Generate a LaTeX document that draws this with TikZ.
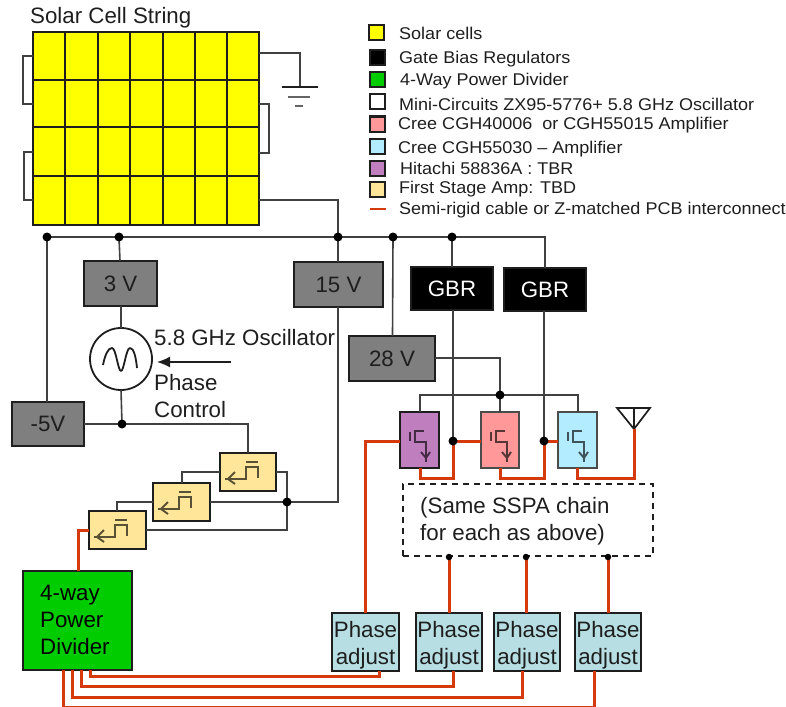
\documentclass[tikz,border=0pt]{standalone}
\usepackage{fontspec}
\setmainfont{Liberation Sans}
\newfontfamily\lgfont[FakeStretch=1.06]{Liberation Sans}
\usetikzlibrary{calc,arrows.meta}
\definecolor{ink}{HTML}{1E1E1E}
\definecolor{cabl}{HTML}{D43A0E}
\definecolor{regg}{HTML}{7F7F7F}
\definecolor{grn}{HTML}{00CC00}
\definecolor{pnk}{HTML}{FF9999}
\definecolor{blu}{HTML}{B3ECFF}
\definecolor{pur}{HTML}{BF7FBF}
\definecolor{bge}{HTML}{FFE699}
\definecolor{phs}{HTML}{B7DFE3}
\definecolor{solar}{HTML}{FFFF00}
\tikzset{
  x=1pt,y=-1pt,
  wire/.style={draw=ink!85!white,line width=1.6pt},
  redw/.style={draw=cabl,line width=3pt,line join=miter},
  bx/.style={draw=ink,line width=2pt,inner sep=0pt,outer sep=0pt,text=ink,align=center,font=\fontsize{22.3}{27}\selectfont},
  reg/.style={bx,fill=regg},
  gbr/.style={bx,fill=black,text=white},
  dot/.style={circle,fill=black,inner sep=0pt,minimum size=9pt},
  smalld/.style={circle,fill=black,inner sep=0pt,minimum size=6.5pt},
  swatch/.style={draw=ink,line width=2pt,inner sep=0pt,minimum size=15pt},
  lg/.style={anchor=west,inner sep=0pt,text=ink,font=\lgfont\fontsize{17}{17}\selectfont},
  lab/.style={anchor=west,inner sep=0pt,text=ink,font=\fontsize{22.3}{27}\selectfont},
  phtext/.style={inner sep=0pt,text=ink,align=center,yshift=-3pt,font=\fontsize{22.3}{27}\selectfont},
  sym/.style={line width=1.9pt,line cap=butt},
}
% \bxat{style}{name}{x1}{y1}{x2}{y2}{text}
\newcommand{\bxat}[7]{\node[#1,minimum width={#5-#3},minimum height={#6-#4}] (#2) at ({(#3+#5)/2},{(#4+#6)/2}) {#7};}
\newcommand{\ampsym}[2]{\begin{scope}[shift={(#1)},sym,draw=#2]
  \draw (10,20)--(10,29);
  \draw (24,19)--(15,19)--(15,30)--(26,30)--(26,50);
  \draw (21,40)--(26,46)--(30,40);
\end{scope}}
\newcommand{\fstsym}[1]{\begin{scope}[shift={(#1)},sym,draw=bge!35!black]
  \draw (26,9)--(38,9);
  \draw (38,25)--(38,14)--(26,14)--(26,26)--(5,26);
  \draw (15,19)--(8,26)--(15,31);
\end{scope}}
\begin{document}
\begin{tikzpicture}
\useasboundingbox (0,0) rectangle (786,706);
% solar string
\node[lab,font=\fontsize{22.3}{22}\selectfont] (title) at (30,18) {Solar Cell String};
\bxat{draw=ink,fill=solar,line width=1.7pt,inner sep=0pt,outer sep=0pt}{cells}{33}{32}{259}{225}{}
\foreach \vx in {65,98,130,163,195,227}{\draw[ink,line width=1.7pt] (\vx,32)--(\vx,225);}
\foreach \hy in {80,127,176}{\draw[ink,line width=1.7pt] (33,\hy)--(259,\hy);}
\draw[wire] (33,56)--(23,56)--(23,104)--(33,104);
\draw[wire] (33,152)--(24,152)--(24,200)--(33,200);
\draw[wire] (259,104)--(269,104)--(269,153)--(259,153);
\draw[wire] (259,200)--(338,200)--(338,237);
% ground
\coordinate (gnd) at (300,87);
\draw[wire,line width=1.8pt] (259,53)-|(gnd);
\draw[ink,line width=2pt] (282,87)--(318,87);
\draw[regg!80!black,line width=2pt] (288,97)--(310,97);
\draw[regg!80!black,line width=2pt] (295,106)--(303,106);
% bus junctions
\coordinate (jm5) at (47,237);
\coordinate (j3) at (119,237);
\coordinate (j15) at (338,237);
\coordinate (j28) at (393,237);
\coordinate (jg1) at (452,237);
\coordinate (jg2) at (545,237);
% regulators
\bxat{reg}{v3}{84}{261}{157}{306}{3 V}
\bxat{reg}{v15}{294}{262}{383}{307}{15 V}
\bxat{reg}{v28}{349}{336}{435}{381}{28 V}
\bxat{reg}{vm5}{12}{402}{84}{446}{-5V}
\bxat{gbr}{g1}{411}{267}{493}{310}{GBR}
\bxat{gbr}{g2}{504}{268}{586}{311}{GBR}
% oscillator
\node[circle,draw=ink,line width=1.8pt,fill=white,minimum size=62pt,inner sep=0pt,outer sep=0pt] (osc) at (121,359) {};
\draw[ink,line width=1.8pt,line join=round] (103,365) .. controls (105,355) and (108,348) .. (112,348) .. controls (116,348) and (118,371) .. (121,371) .. controls (124,371) and (126,348) .. (130,348) .. controls (134,348) and (136,358) .. (137,368);
\node[lab] (osclab) at (154,338) {5.8 GHz Oscillator};
\node[lab] (phlab) at (154,383) {Phase};
\node[lab] (ctllab) at (154,410) {Control};
\coordinate (arrs) at (231,362);
\draw[ink,line width=1.5pt,-{Latex[length=13pt,width=11pt]}] (arrs)--(157,362);
% first stage amps
\bxat{bx,fill=bge}{a3}{220}{453}{276}{491}{}
\bxat{bx,fill=bge}{a2}{153}{483}{210}{521}{}
\bxat{bx,fill=bge}{a1}{89}{511}{146}{549}{}
\fstsym{220,453}\fstsym{153,483}\fstsym{89,511}
% SSPA
\bxat{bx,fill=pur}{ap}{400}{412}{439}{468}{}
\bxat{bx,fill=pnk,draw=ink!80}{ar}{481}{412}{519}{468}{}
\bxat{bx,fill=blu,draw=ink!80}{ab}{558}{412}{597}{468}{}
\ampsym{400,412}{pur!35!black}
\ampsym{481,412}{pnk!35!black}
\ampsym{558,412}{blu!35!black}
% divider and phase boxes
\bxat{bx,fill=grn,text=black}{div}{23}{571}{132}{670}{}
\node[lab,text=black,align=left] (divt) at (40,620) {4-way\\Power\\Divider};
\bxat{bx,fill=phs}{p1}{332}{613}{399}{671}{}
\bxat{bx,fill=phs}{p2}{416}{613}{482}{671}{}
\bxat{bx,fill=phs}{p3}{494}{613}{560}{671}{}
\bxat{bx,fill=phs}{p4}{575}{613}{641}{671}{}
\node[phtext] (pt1) at (p1) {Phase\\adjust};
\node[phtext] (pt2) at (p2) {Phase\\adjust};
\node[phtext] (pt3) at (p3) {Phase\\adjust};
\node[phtext] (pt4) at (p4) {Phase\\adjust};
% dashed
\bxat{draw=ink,dashed,line width=1.6pt,dash pattern=on 6pt off 5pt,inner sep=0pt,outer sep=0pt}{same}{403}{484}{653}{556}{}
\node[lab,align=left,anchor=north west] (samet) at (420,497.5) {(Same SSPA chain\\for each as above)};
% antenna
\coordinate (ant) at (634,429);
\draw[ink,line width=1.7pt,line join=miter] (617,408)--(650,408)--(ant)--cycle (634,408)--(ant);
% black wiring
\draw[wire] (jm5)--(jg1)--(jg2)--(g2.north-|jg2);
\draw[wire] (jm5)--(vm5.north-|jm5);
\draw[wire] (j3)--(120,261);
\draw[wire] (v3.south-|121,0)--(osc.north);
\coordinate (j5) at (122,424);
\draw[wire] (osc.south)--(j5);
\draw[wire] (vm5.east|-j5)--(j5)--(248,424)--(a3.north-|248,0);
\draw[wire] (j15)--(v15.north-|j15);
\coordinate (j2) at (287,502);
\draw[wire] (v15.south-|j15)--(338,502)--(a2.east|-j2);
\draw[wire] (a3.east|-0,472)--(287,472)--(287,530)--(a1.east|-0,530);
\draw[wire] (a3.west|-0,472)--(182,472)--(a2.north-|182,0);
\draw[wire] (a2.west|-j2)--(117,502)--(a1.north-|117,0);
\draw[wire] (j28)--(v28.north-|392.5,0);
\draw[wire] (jg1)--(g1.north-|jg1);
\coordinate (jr) at (500,395);
\draw[wire] (v28.east|-0,358)--(500,358)--(jr);
\draw[wire] (ap.north-|420,0)--(420,395)--(578,395)--(ab.north-|578,0);
\draw[wire] (jr)--(ar.north-|jr);
\coordinate (jp) at (453,441);
\coordinate (jq) at (544,441);
\draw[wire] (g1.south-|jp)--(jp);
\draw[wire] (g2.south-|jq)--(jq);
% cables
\draw[redw] (a1.west|-0,530)--(78,530)--(div.north-|78,0);
\draw[redw] (ap.west|-0,441)--(365.5,441)--(p1.north-|365.5,0);
\draw[redw] (ap.south-|420,0)--(420,478)--(453,478)--(jp)--(ar.west|-jp);
\draw[redw] (ar.south-|500,0)--(500,478)--(544,478)--(jq)--(ab.west|-jq);
\draw[redw] (ab.south-|577,0)--(577,478)--(634,478)--(ant);
\coordinate (s2) at (449,557);
\coordinate (s3) at (526,557);
\coordinate (s4) at (608,557);
\draw[redw] (s2)--(p2.north-|s2);
\draw[redw] (s3)--(p3.north-|s3);
\draw[redw] (s4)--(p4.north-|s4);
\draw[redw] (div.south-|90,0)--(90,676)--(379,676)--(p1.south-|379,0);
\draw[redw] (div.south-|81,0)--(81,686.5)--(453,686.5)--(p2.south-|453,0);
\draw[redw] (div.south-|72,0)--(72,697)--(522,697)--(p3.south-|522,0);
\draw[redw] (div.south-|63,0)--(63,707)--(594,707)--(p4.south-|594,0);
% junction dots
\foreach \nm in {jm5,j3,j15,j28,jg1,j5,j2,jr,jp,jq}{\node[dot] at (\nm) {};}
\foreach \nm in {s2,s3,s4}{\node[smalld] at (\nm) {};}
% legend
\node[swatch,fill=solar] (k1) at (376,33) {};
\node[swatch,fill=black] (k2) at (377,58) {};
\node[swatch,fill=grn] (k3) at (377,80) {};
\node[swatch,fill=white] (k4) at (377,102) {};
\node[swatch,fill=pnk] (k5) at (377,124) {};
\node[swatch,fill=blu] (k6) at (377,146) {};
\node[swatch,fill=pur] (k7) at (377,168) {};
\node[swatch,fill=bge] (k8) at (377,189) {};
\coordinate (k9a) at (370,209);
\coordinate (k9b) at (386,209);
\draw[cabl,line width=2.5pt] (k9a)--(k9b);
\node[lg] (t1) at (399,33) {Solar cells};
\node[lg] (t2) at (399,59) {Gate Bias Regulators};
\node[lg] (t3) at (400,81) {4-Way Power Divider};
\node[lg] (t4) at (399,104) {Mini-Circuits ZX95-5776+ 5.8 GHz Oscillator};
\node[lg] (t5) at (398,125) {Cree CGH40006\ \ or CGH55015 Amplifier};
\node[lg] (t6) at (398,149) {Cree CGH55030 – Amplifier};
\node[lg] (t7) at (400,168) {Hitachi 58836A : TBR};
\node[lg] (t8) at (399,189) {First Stage Amp: TBD};
\node[lg] (t9) at (399,210) {Semi-rigid cable or Z-matched PCB interconnect};
\end{tikzpicture}
\end{document}
